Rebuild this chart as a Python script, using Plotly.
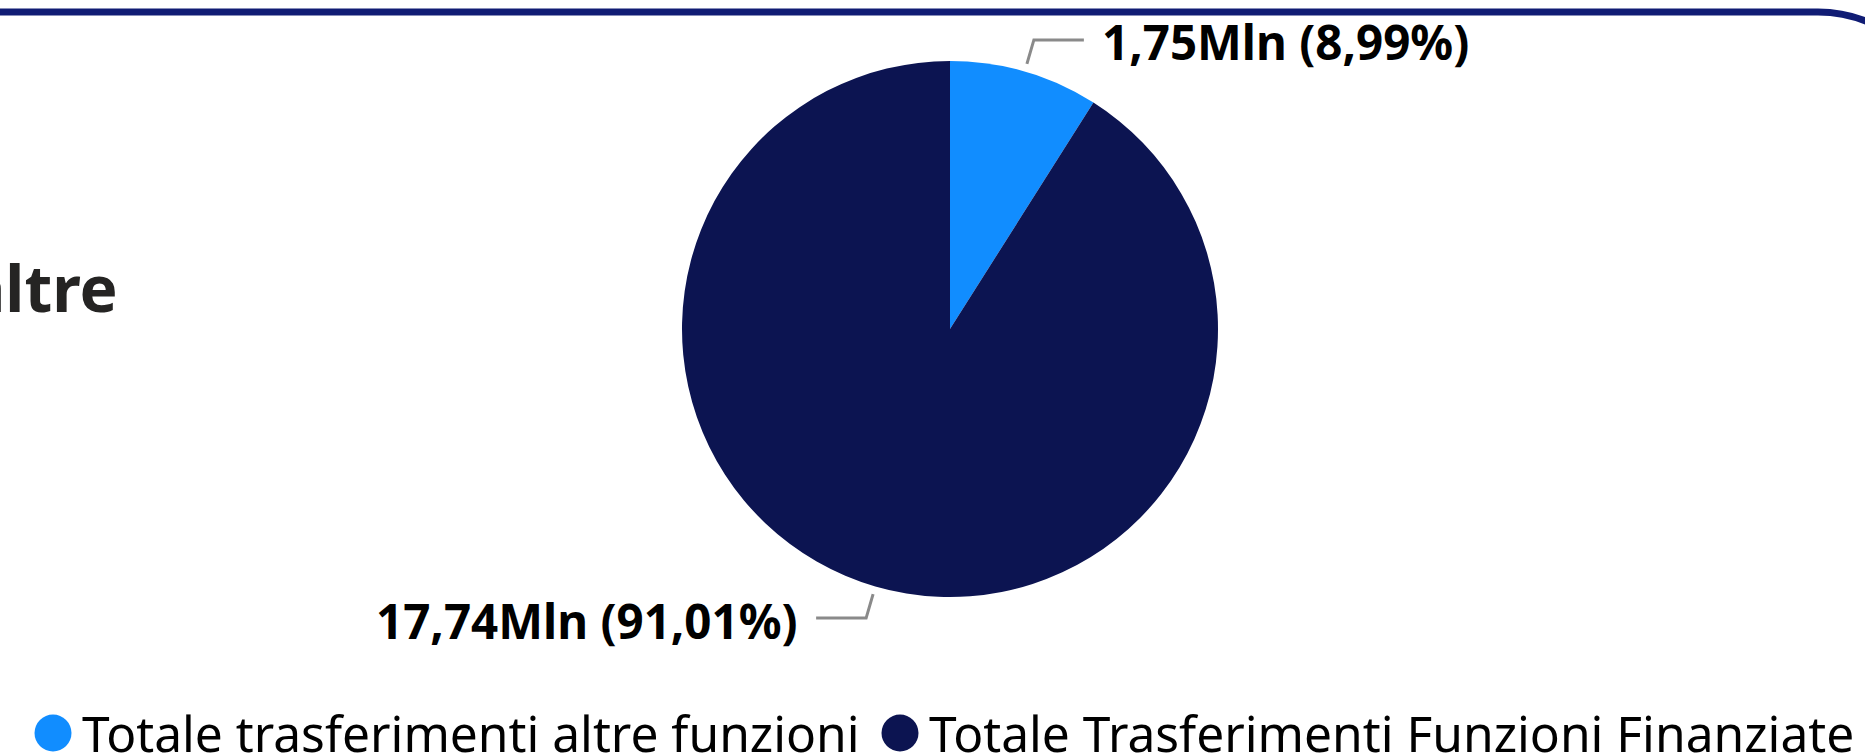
import math
import plotly.graph_objects as go

# ---- data ----
categories = ["Totale trasferimenti altre funzioni", "Totale Trasferimenti Funzioni Finanziate"]
values_mln = [1.752, 17.738]
colors = ["#118DFF", "#0C1451"]
title_fragment = "altre"

W, H = 1865, 756

def px(x):
    return x / W

def py(y):
    return 1 - y / H

def it_num(v, d=2):
    return f"{v:.{d}f}".replace(".", ",")

# pie geometry (pixel layout)
cx, cy, r = 950, 329, 268

fig = go.Figure()
fig.add_trace(go.Pie(
    labels=categories,
    values=values_mln,
    marker=dict(colors=colors, line=dict(width=0)),
    sort=False,
    direction="clockwise",
    rotation=0,
    textinfo="none",
    hoverinfo="label+value+percent",
    showlegend=False,
    domain=dict(x=[px(cx - r), px(cx + r)], y=[py(cy + r), py(cy - r)]),
))

shapes = []
annotations = []

# top border of the card (rounded corner at right)
k = 0.5523
R = 130
x_start = 1818
border_path = (
    f"M {px(-10)} {py(12)} L {px(x_start)} {py(12)} "
    f"C {px(x_start + R * k)} {py(12)} {px(x_start + R)} {py(12 + R - R * k)} {px(x_start + R)} {py(12 + R)}"
)
shapes.append(dict(type="path", xref="paper", yref="paper", path=border_path,
                   line=dict(color="#101C74", width=7)))

# data labels with leader lines
total = sum(values_mln)
cum = 0.0
for v in values_mln:
    mid = (cum + v / 2) / total * 2 * math.pi
    cum += v
    sx, sy = math.sin(mid), -math.cos(mid)
    x1, y1 = cx + (r + 8) * sx, cy + (r + 8) * sy
    x2, y2 = cx + (r + 33) * sx, cy + (r + 33) * sy
    side = 1 if sx >= 0 else -1
    x3 = x2 + side * 50
    shapes.append(dict(type="path", xref="paper", yref="paper",
                       path=f"M {px(x1)} {py(y1)} L {px(x2)} {py(y2)} L {px(x3)} {py(y2)}",
                       line=dict(color="#8A8A8A", width=3)))
    pct = v / total * 100
    annotations.append(dict(
        xref="paper", yref="paper", x=px(x3 + side * 16), y=py(y2 + 2),
        xanchor="left" if side > 0 else "right", yanchor="middle",
        text=f"{it_num(v)}Mln ({it_num(pct)}%)", showarrow=False,
        font=dict(family="Noto Sans", size=47.5, color="#000000", weight="bold"),
    ))

# truncated card title fragment on the left
annotations.append(dict(
    xref="paper", yref="paper", x=px(120), y=py(287), xanchor="right", yanchor="middle",
    text=title_fragment, showarrow=False,
    font=dict(family="Noto Sans", size=64, color="#252423", weight="bold"),
))

# legend (circle markers + labels)
legend_items_x = [53, 900]
for cat, col, lx in zip(categories, colors, legend_items_x):
    d = 37
    shapes.append(dict(type="circle", xref="paper", yref="paper",
                       x0=px(lx - d / 2), x1=px(lx + d / 2), y0=py(733 + d / 2), y1=py(733 - d / 2),
                       fillcolor=col, line=dict(width=0)))
    annotations.append(dict(
        xref="paper", yref="paper", x=px(lx + 27), y=py(733), xanchor="left", yanchor="middle",
        text=cat, showarrow=False,
        font=dict(family="Noto Sans", size=49.7, color="#000000"),
    ))

fig.update_layout(
    width=W, height=H,
    margin=dict(l=0, r=0, t=0, b=0),
    paper_bgcolor="#FFFFFF", plot_bgcolor="#FFFFFF",
    shapes=shapes, annotations=annotations,
    showlegend=False,
)

fig.write_html(
    "out.html",
    config={"displayModeBar": False},
    post_script="document.body.style.margin='0';document.body.style.overflow='hidden';",
)
